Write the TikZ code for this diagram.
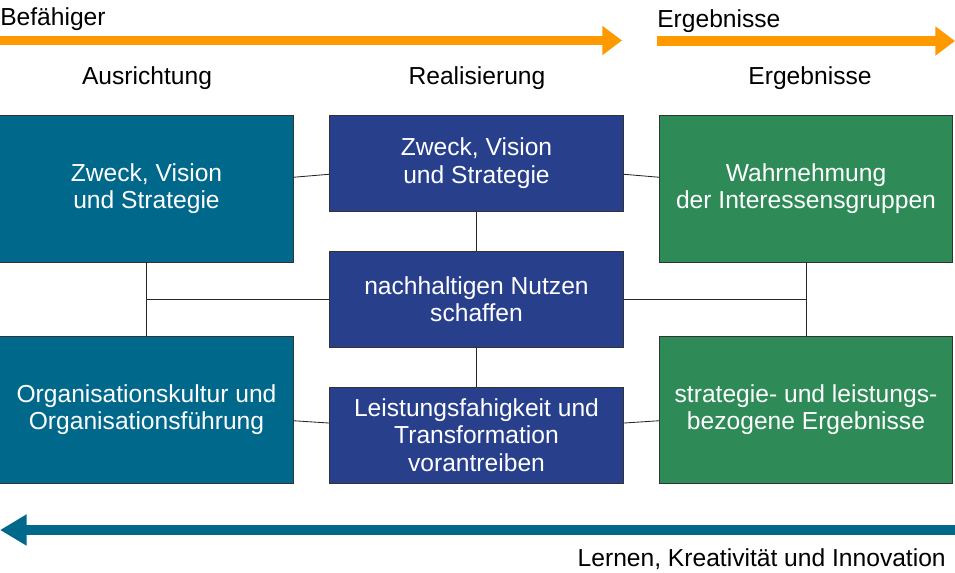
\documentclass[tikz,border=0pt]{standalone}
\usepackage{fontspec}
\setmainfont{Liberation Sans}
\usetikzlibrary{arrows.meta,calc}
\definecolor{tealbox}{RGB}{0,104,138}
\definecolor{bluebox}{RGB}{40,64,140}
\definecolor{greenbox}{RGB}{46,139,87}
\definecolor{orangeband}{RGB}{255,153,0}

\begin{document}
\begin{tikzpicture}[x=0.025cm,y=-0.025cm,
	box/.style={draw=black!80,line width=0.6pt,text=white,align=center,inner sep=0pt,font=\fontsize{17.5}{19.5}\selectfont},
	tallbox/.style={box,minimum width=7.33cm,minimum height=3.675cm},
	flatbox/.style={box,minimum width=7.33cm,minimum height=2.4cm},
	head/.style={inner sep=0pt,font=\fontsize{17.5}{19.5}\selectfont},
	band/.style={line width=7pt},
	link/.style={draw=black!85,line width=0.6pt}]
					\useasboundingbox (0,0) rectangle (955,573);
					
					%BANDS
					\draw[band,orangeband,-{Triangle[length=14pt,width=20pt]}] (0,40.5) coordinate (befA) -- (622,40.5) coordinate (befB);
					\draw[band,orangeband,-{Triangle[length=14pt,width=20pt]}] (657,41) coordinate (ergA) -- (955,41) coordinate (ergB);
					\draw[band,tealbox,-{Triangle[length=19pt,width=21pt]}] (955,530) coordinate (lerA) -- (0,530) coordinate (lerB);
					\node[head,anchor=base west] (bef) at (0,25) {Befähiger};
					\node[head,anchor=base west] (erg) at (657,27) {Ergebnisse};
					\node[head,anchor=base east] (ler) at (946,566) {Lernen, Kreativität und Innovation};
					
					%HEADINGS
					\node[head,anchor=base] (hA) at (147,84) {Ausrichtung};
					\node[head,anchor=base] (hR) at (477,84) {Realisierung};
					\node[head,anchor=base] (hE) at (810,84) {Ergebnisse};
					
					%BOXES
					\node[tallbox,fill=tealbox] (lt) at (146.5,188.5) {Zweck, Vision\\und Strategie};
					\node[tallbox,fill=tealbox] (lb) at (146.5,409.5) {Organisationskultur und\\Organisationsführung};
					\node[flatbox,fill=bluebox] (mt) at (476.5,163) {Zweck, Vision\\und Strategie};
					\node[flatbox,fill=bluebox] (mm) at (476.5,299) {nachhaltigen Nutzen\\schaffen};
					\node[flatbox,fill=bluebox] (mb) at (476.5,435) {Leistungsfahigkeit und\\Transformation\\vorantreiben};
					\node[tallbox,fill=greenbox] (rt) at (806,188.5) {Wahrnehmung\\der Interessensgruppen};
					\node[tallbox,fill=greenbox] (rb) at (806,409.5) {strategie- und leistungs-\\bezogene Ergebnisse};
					
					%LINKS
					\draw[link] ([yshift=8pt]lt.east) -- ([yshift=-8pt]mt.west);
					\draw[link] ([yshift=-8pt]mt.east) -- ([yshift=8pt]rt.west);
					\draw[link] ([yshift=-8pt]lb.east) -- ([yshift=8.5pt]mb.west);
					\draw[link] ([yshift=8.5pt]mb.east) -- ([yshift=-8pt]rb.west);
					\draw[link] (mt.south) -- (mm.north);
					\draw[link] (mm.south) -- (mb.north);
					\draw[link] (lt.south) -- (lb.north);
					\draw[link] (rt.south) -- (rb.north);
					\draw[link] (mm.west) -- (lt.south |- mm.west);
					\draw[link] (mm.east) -- (rt.south |- mm.east);
					
				  \end{tikzpicture}
\end{document}
